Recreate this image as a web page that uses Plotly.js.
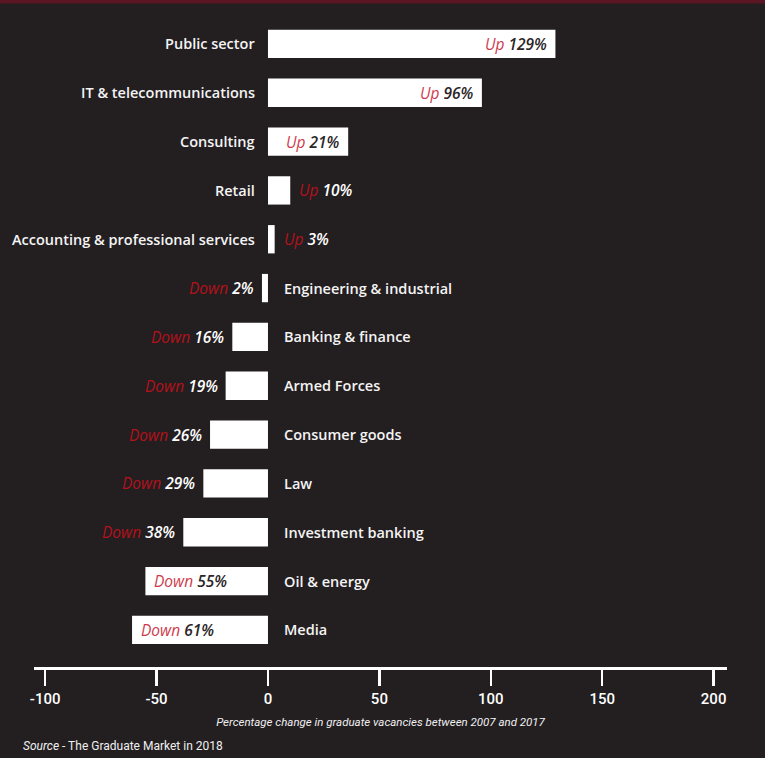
<!DOCTYPE html>
<html>
<head>
<meta charset="utf-8">
<script src="https://cdn.plot.ly/plotly-3.0.1.min.js"></script>
<style>
html,body{margin:0;padding:0;background:#231e20;}
#chart{width:765px;height:758px;}
</style>
</head>
<body>
<div id="chart"></div>
<script>
// Sectors, top to bottom
const sectors = ["Public sector","IT & telecommunications","Consulting","Retail",
  "Accounting & professional services","Engineering & industrial","Banking & finance",
  "Armed Forces","Consumer goods","Law","Investment banking","Oil & energy","Media"];
// Percentage change as labelled
const pctChange = [129, 96, 21, 10, 3, -2, -16, -19, -26, -29, -38, -55, -61];
// Bar lengths as drawn in the picture (the Consulting bar is drawn longer than its label)
const barLengths = [129, 96, 36, 10, 3, -2.7, -16, -19, -26, -29, -38, -55, -61];
// Whether the value label sits inside the bar
const labelInside = [true, true, true, false, false, false, false, false, false, false, false, true, true];
const tickVals = [-100, -50, 0, 50, 100, 150, 200];
const axisTitle = "Percentage change in graduate vacancies between 2007 and 2017";
const sourceText = "<i>Source</i> - The Graduate Market in 2018";

const BG = "#231e20";
const RED_IN = "#cf3b4c";
const RED_OUT = "#b3121c";
const DARK = "#2b2527";

const trace = {
  type: "bar",
  orientation: "h",
  x: barLengths,
  y: sectors,
  width: 0.58,
  marker: {color: "#ffffff", line: {width: 0}},
  hoverinfo: "skip"
};

const annotations = [];
sectors.forEach((s, i) => {
  const v = pctChange[i];
  const pos = v >= 0;
  annotations.push({
    x: 0, y: s, xref: "x", yref: "y",
    text: s, showarrow: false,
    xanchor: pos ? "right" : "left",
    xshift: pos ? -11 : 14,
    font: {family: "Open Sans", size: 14.5, color: "#f4f4f4", weight: 600}
  });
  const word = pos ? "Up" : "Down";
  const num = Math.abs(v) + "%";
  const inside = labelInside[i];
  const redC = inside ? RED_IN : RED_OUT;
  const numC = inside ? DARK : "#ffffff";
  const txt = `<i><span style="color:${redC}">${word}</span> <span style="color:${numC};font-weight:600">${num}</span></i>`;
  let xanchor, xshift;
  if (pos) {
    if (inside) { xanchor = "right"; xshift = -6; } else { xanchor = "left"; xshift = 7; }
  } else {
    if (inside) { xanchor = "left"; xshift = 7; } else { xanchor = "right"; xshift = -6; }
  }
  annotations.push({
    x: barLengths[i], y: s, xref: "x", yref: "y",
    text: txt, showarrow: false, xanchor, xshift,
    font: {family: "Open Sans", size: 15.5, color: numC}
  });
});

annotations.push({
  x: 0, y: 0, xref: "paper", yref: "paper",
  xanchor: "left", yanchor: "bottom",
  text: sourceText, showarrow: false,
  xshift: -13, yshift: -88,
  font: {family: "Roboto", size: 12, color: "#f0f0f0"}
});

const layout = {
  width: 765, height: 758,
  paper_bgcolor: BG, plot_bgcolor: BG,
  margin: {l: 34, r: 38, t: 20, b: 91},
  showlegend: false,
  xaxis: {
    range: [-105, 206],
    tickvals: tickVals,
    ticktext: tickVals.map(String),
    showgrid: false, zeroline: false,
    showline: true, linecolor: "#ffffff", linewidth: 3,
    ticks: "outside", ticklen: 16, tickwidth: 2.5, tickcolor: "#ffffff",
    tickfont: {family: "Roboto", size: 15, color: "#ffffff", weight: 500},
    title: {text: "<i>" + axisTitle + "</i>", standoff: 11,
      font: {family: "Roboto", size: 11.5, color: "#f0f0f0"}},
    fixedrange: true
  },
  yaxis: {
    type: "category",
    categoryorder: "array", categoryarray: sectors,
    range: [12.76, -0.49],
    showticklabels: false, showgrid: false, zeroline: false, showline: false,
    ticks: "", fixedrange: true
  },
  shapes: [{
    type: "rect", xref: "paper", yref: "paper",
    x0: -0.1, x1: 1.1, y0: 1 + 16.5 / 647, y1: 1 + 21 / 647,
    line: {width: 0}, fillcolor: "#5b1624", layer: "below"
  }],
  annotations
};

Plotly.newPlot("chart", [trace], layout, {displayModeBar: false, staticPlot: true});
</script>
</body>
</html>
